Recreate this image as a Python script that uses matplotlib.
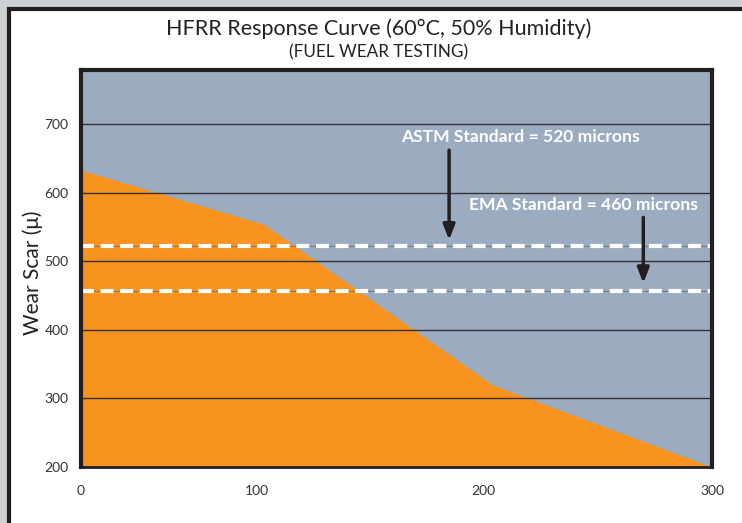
import numpy as np
import matplotlib
matplotlib.use("Agg")
import matplotlib.pyplot as plt
from matplotlib.patches import Rectangle

# HFRR wear scar curve
load_x = [0, 103, 204, 300]
wear_y = [633, 554, 320, 200]

astm_level = 523
ema_level = 456
astm_label = "ASTM Standard = 520 microns"
ema_label = "EMA Standard = 460 microns"

x_ticks = [0, 100, 200, 300]
y_ticks = [200, 300, 400, 500, 600, 700]

# the printed x axis is not evenly spaced, so map ticks to where they sit
tick_spots = [0, 176, 402, 631]


def fwd(x):
    return np.interp(x, x_ticks, tick_spots)


def inv(p):
    return np.interp(p, tick_spots, x_ticks)


ORANGE = "#f7931e"
STEEL = "#9bacc1"
DARK = "#231f20"
FONT = ["Lato", "DejaVu Sans"]

fig = plt.figure(figsize=(7.42, 5.23), dpi=100)
fig.patch.set_facecolor("#cdd1d4")

# white card with dark frame
card = Rectangle((8.5 / 742, -0.05), 1.2, 1 - 9 / 523 + 0.05,
                 transform=fig.transFigure, facecolor="white",
                 edgecolor=DARK, linewidth=3, zorder=-1)
fig.patches.append(card)

ax = fig.add_axes([81 / 742, 56 / 523, 631 / 742, 397 / 523])
ax.set_zorder(2)
ax.set_xscale("function", functions=(fwd, inv))
ax.set_facecolor(STEEL)
ax.fill_between(load_x, 200, wear_y, color=ORANGE, linewidth=0, zorder=1)

for yv in y_ticks[1:]:
    ax.axhline(yv, color="#333333", linewidth=1.0, zorder=2)

for lvl in [astm_level, ema_level]:
    ax.axhline(lvl, color="#6d6d6d", linewidth=0.8, alpha=0.7, zorder=3)
    ax.axhline(lvl, color="white", linewidth=3, dashes=(3.1, 1.6), zorder=4)

ax.set_xlim(0, 300)
ax.set_ylim(200, 779)
ax.set_xticks(x_ticks)
ax.set_yticks(y_ticks)
ax.tick_params(length=0, labelsize=10, colors="#333333")
ax.tick_params(axis="x", pad=13)
ax.tick_params(axis="y", pad=9)
for lab in ax.get_xticklabels() + ax.get_yticklabels():
    lab.set_family(FONT)

for side, lw in [("left", 3), ("top", 3), ("right", 3), ("bottom", 2)]:
    ax.spines[side].set_color(DARK)
    ax.spines[side].set_linewidth(lw)
    ax.spines[side].set_zorder(6)

ax.set_ylabel("Wear Scar (\u03bc)", fontsize=15, family=FONT, color="#222222")
ax.yaxis.set_label_coords(-0.061, 0.49)

# standard annotations
ax.text(0.697, 0.831, astm_label, transform=ax.transAxes, ha="center",
        va="center", color="white", fontsize=12.6, fontweight="bold",
        family=FONT, zorder=7)
ax.text(0.796, 0.660, ema_label, transform=ax.transAxes, ha="center",
        va="center", color="white", fontsize=12.6, fontweight="bold",
        family=FONT, zorder=7)

arrow = dict(arrowstyle="-|>,head_length=0.9,head_width=0.35",
             color=DARK, linewidth=2.5, shrinkA=0, shrinkB=0)
ax.annotate("", xy=(185, 531), xytext=(185, 662), arrowprops=arrow, zorder=7)
ax.annotate("", xy=(270, 468), xytext=(270, 564), arrowprops=arrow, zorder=7)

fig.text(379 / 742, 1 - 29 / 523, "HFRR Response Curve (60\u00b0C, 50% Humidity)",
         ha="center", va="center", fontsize=15.5, family=FONT, color="#222222")
fig.text(379 / 742, 1 - 52 / 523, "(FUEL WEAR TESTING)",
         ha="center", va="center", fontsize=12.3, family=FONT, color="#222222")

fig.savefig("out.png", dpi=100, facecolor=fig.get_facecolor())
